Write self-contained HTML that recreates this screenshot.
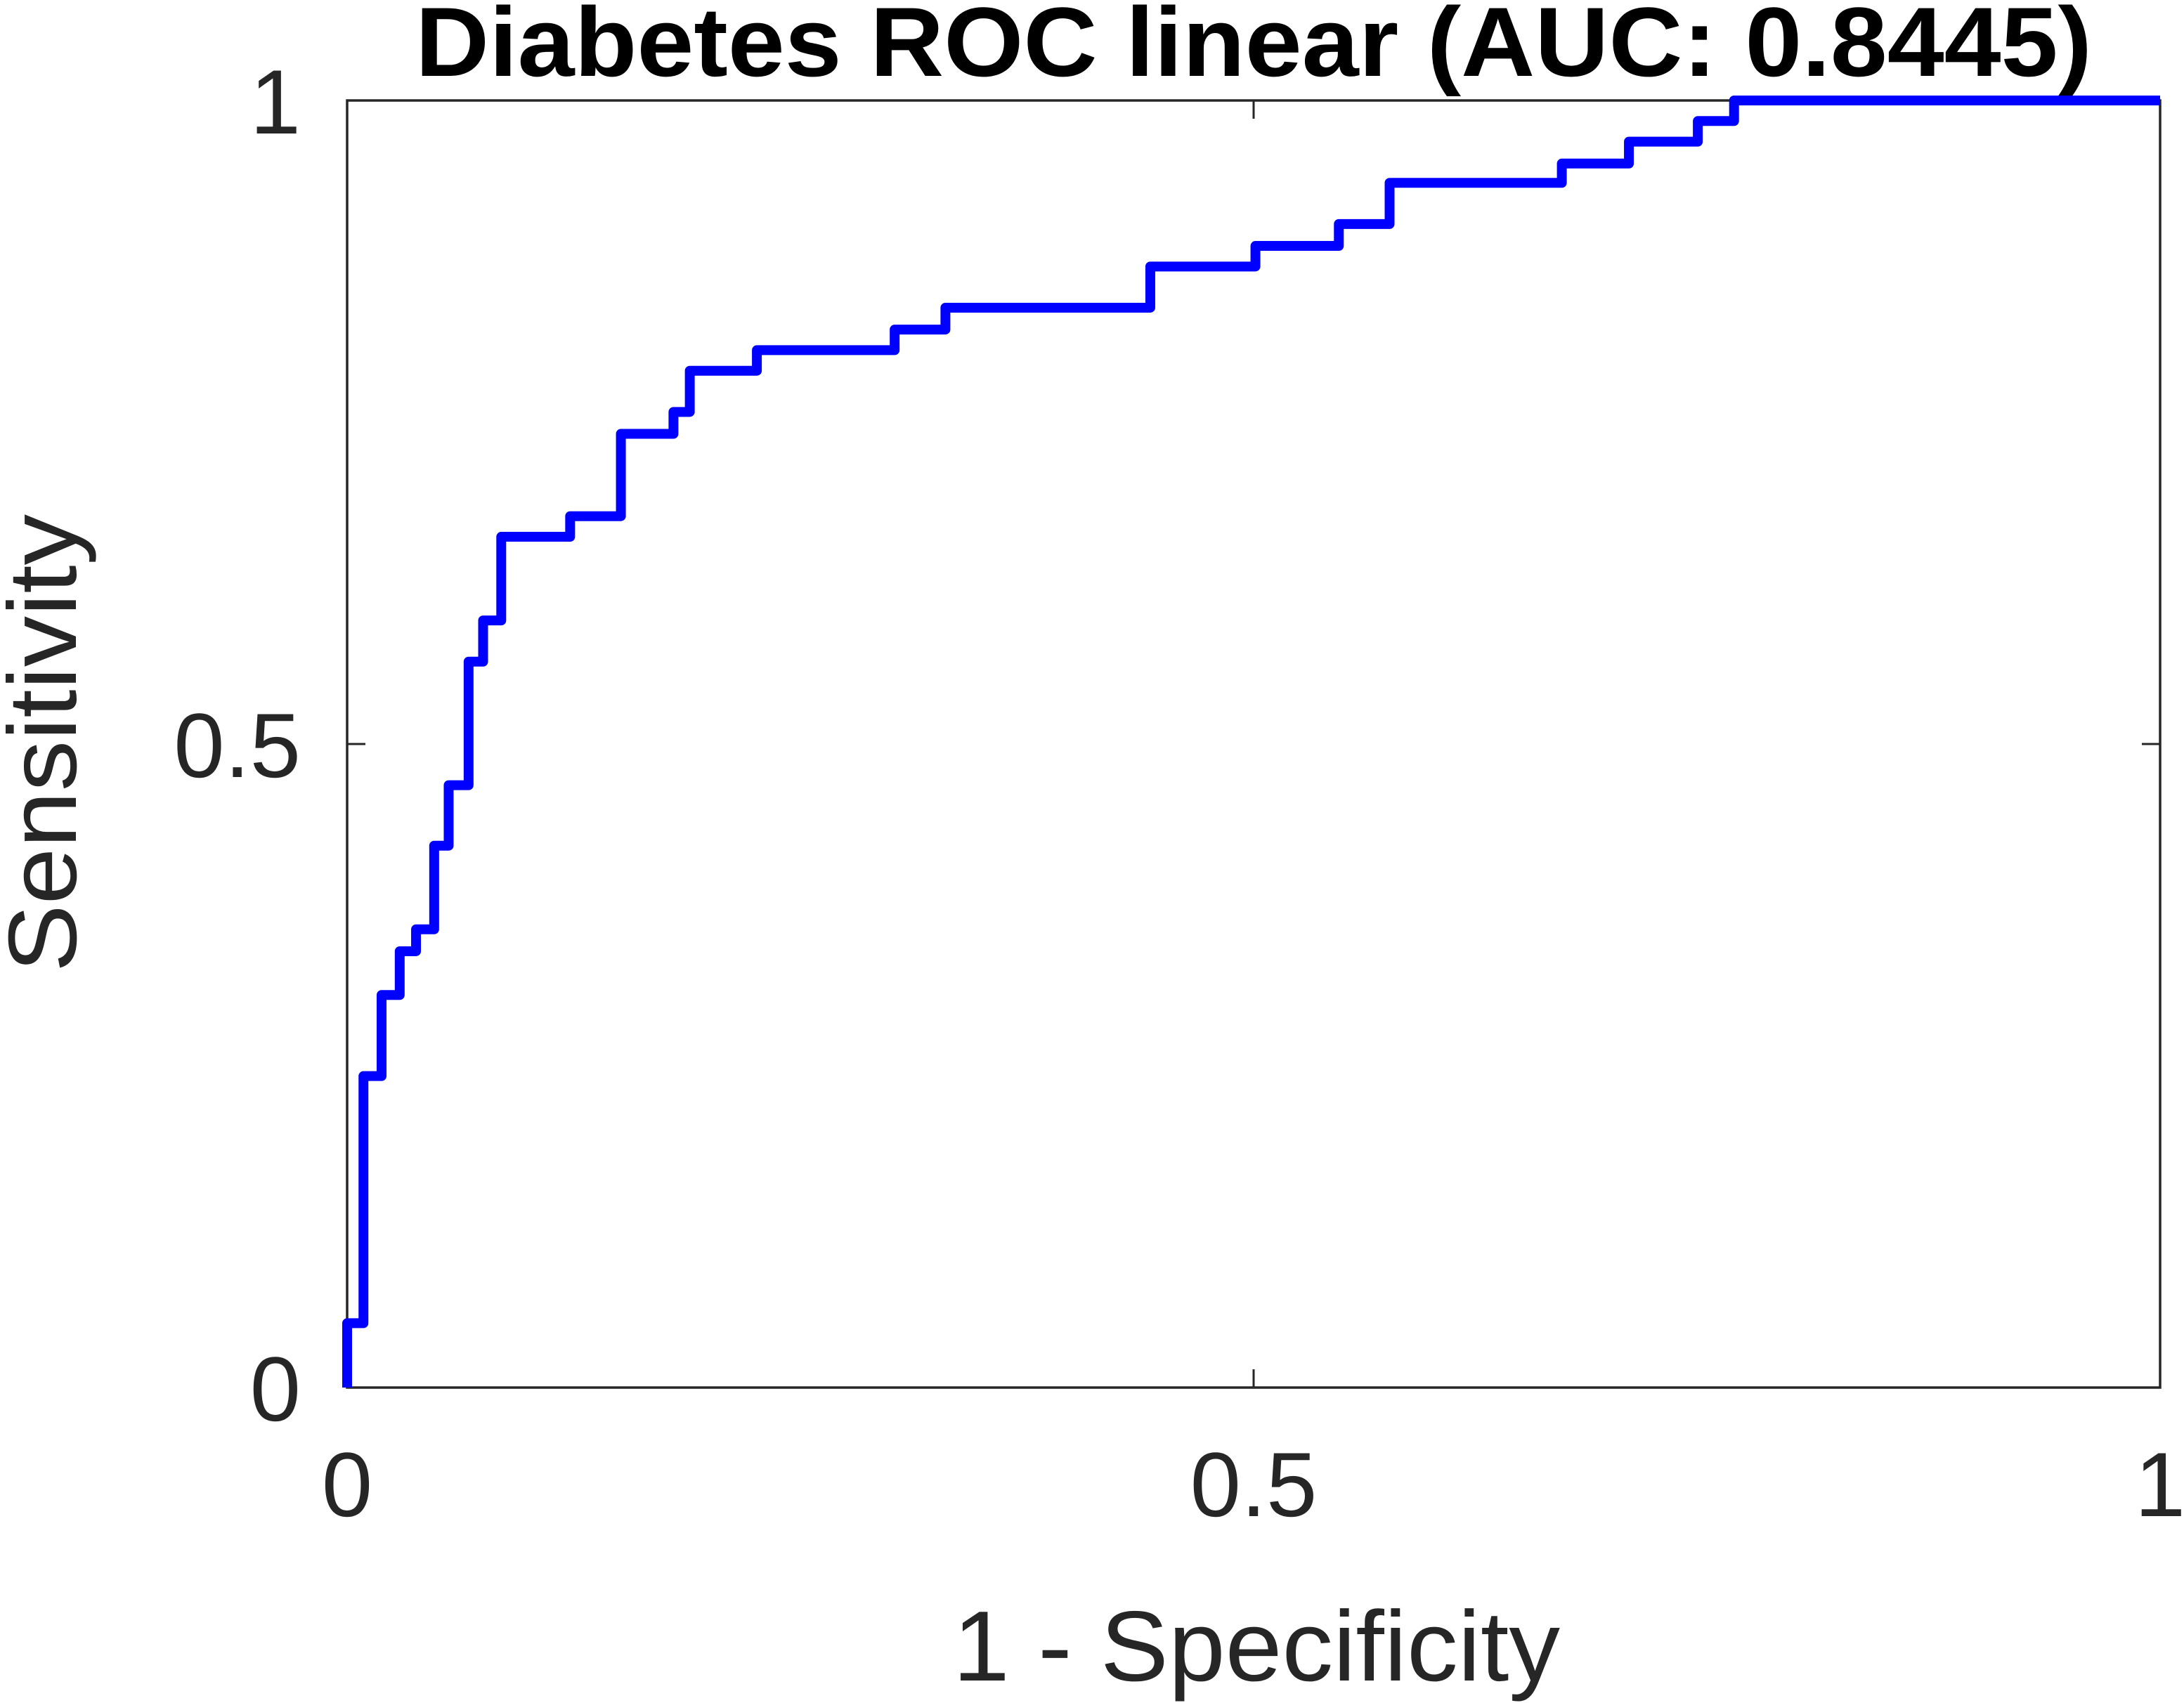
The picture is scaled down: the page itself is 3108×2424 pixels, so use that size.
<!DOCTYPE html>
<html><head><meta charset="utf-8">
<style>html,body{margin:0;padding:0;background:#fff;}svg{display:block;}</style>
</head><body>
<svg id="chart" width="3108" height="2424" viewBox="0 0 3108 2424" xmlns="http://www.w3.org/2000/svg" font-family="'Liberation Sans', sans-serif">
<rect x="0" y="0" width="3108" height="2424" fill="#fff"/>
<text x="1784" y="108" font-size="140" font-weight="bold" text-anchor="middle" textLength="2386" lengthAdjust="spacingAndGlyphs" fill="#000">Diabetes ROC linear (AUC: 0.8445)</text>
<g id="axes"></g>
<g id="series"></g>
<text x="1788" y="2392" font-size="142" text-anchor="middle" textLength="864" lengthAdjust="spacingAndGlyphs" fill="#262626">1 - Specificity</text>
<text transform="translate(108,1058) rotate(-90)" font-size="138" text-anchor="middle" textLength="652" lengthAdjust="spacingAndGlyphs" fill="#262626">Sensitivity</text>
</svg>
<script>
const fprSteps = [0, 0.009, 0.019, 0.029, 0.038, 0.048, 0.056, 0.067, 0.075, 0.085, 0.123, 0.151, 0.180, 0.189, 0.226, 0.302, 0.330, 0.443, 0.501, 0.547, 0.575, 0.670, 0.707, 0.745, 0.765, 1.0];
const tprSteps = [0.05, 0.242, 0.305, 0.339, 0.356, 0.421, 0.468, 0.564, 0.596, 0.661, 0.677, 0.741, 0.758, 0.790, 0.806, 0.822, 0.839, 0.871, 0.887, 0.904, 0.936, 0.951, 0.968, 0.984, 1.0, 1.0];
const xTicks = [0, 0.5, 1];
const xTickLabels = ["0", "0.5", "1"];
const yTicks = [0, 0.5, 1];
const yTickLabels = ["0", "0.5", "1"];

const L = 494, R = 3074, T = 143, B = 1975;
const sx = v => L + v * (R - L);
const sy = v => B - v * (B - T);
const NS = "http://www.w3.org/2000/svg";
const axes = document.getElementById('axes');
const series = document.getElementById('series');

const box = document.createElementNS(NS, 'rect');
box.setAttribute('x', L); box.setAttribute('y', T);
box.setAttribute('width', R - L); box.setAttribute('height', B - T);
box.setAttribute('fill', 'none'); box.setAttribute('stroke', '#262626'); box.setAttribute('stroke-width', '3.5');


axes.appendChild(box);

xTicks.forEach((v, i) => {
  const x = sx(v);
  [[B, B - 26], [T, T + 26]].forEach(p => {
    const t = document.createElementNS(NS, 'line');
    t.setAttribute('x1', x); t.setAttribute('x2', x); t.setAttribute('y1', p[0]); t.setAttribute('y2', p[1]);
    t.setAttribute('stroke', '#262626'); t.setAttribute('stroke-width', '3');
    
    
    axes.appendChild(t);
  });
  const lb = document.createElementNS(NS, 'text');
  lb.setAttribute('x', x); lb.setAttribute('y', 2158);
  lb.setAttribute('font-size', '130'); lb.setAttribute('text-anchor', 'middle'); lb.setAttribute('fill', '#262626');
  lb.textContent = xTickLabels[i];
  
  
  axes.appendChild(lb);
});
yTicks.forEach((v, i) => {
  const y = sy(v);
  [[L, L + 26], [R, R - 26]].forEach(p => {
    const t = document.createElementNS(NS, 'line');
    t.setAttribute('y1', y); t.setAttribute('y2', y); t.setAttribute('x1', p[0]); t.setAttribute('x2', p[1]);
    t.setAttribute('stroke', '#262626'); t.setAttribute('stroke-width', '3');
    
    
    axes.appendChild(t);
  });
  const lb = document.createElementNS(NS, 'text');
  lb.setAttribute('x', 428); lb.setAttribute('y', y + 47);
  lb.setAttribute('font-size', '130'); lb.setAttribute('text-anchor', 'end'); lb.setAttribute('fill', '#262626');
  lb.textContent = yTickLabels[i];
  
  
  axes.appendChild(lb);
});

let d = 'M' + sx(0) + ' ' + sy(0);
for (let i = 0; i < fprSteps.length; i++) {
  d += ' L' + sx(fprSteps[i]) + ' ' + sy(i === 0 ? 0 : tprSteps[i - 1]);
  d += ' L' + sx(fprSteps[i]) + ' ' + sy(tprSteps[i]);
}
const path = document.createElementNS(NS, 'path');
path.setAttribute('d', d);
path.setAttribute('fill', 'none'); path.setAttribute('stroke', '#0000ff');
path.setAttribute('stroke-width', '14'); path.setAttribute('stroke-linejoin', 'round');


series.appendChild(path);
</script>
</body></html>
